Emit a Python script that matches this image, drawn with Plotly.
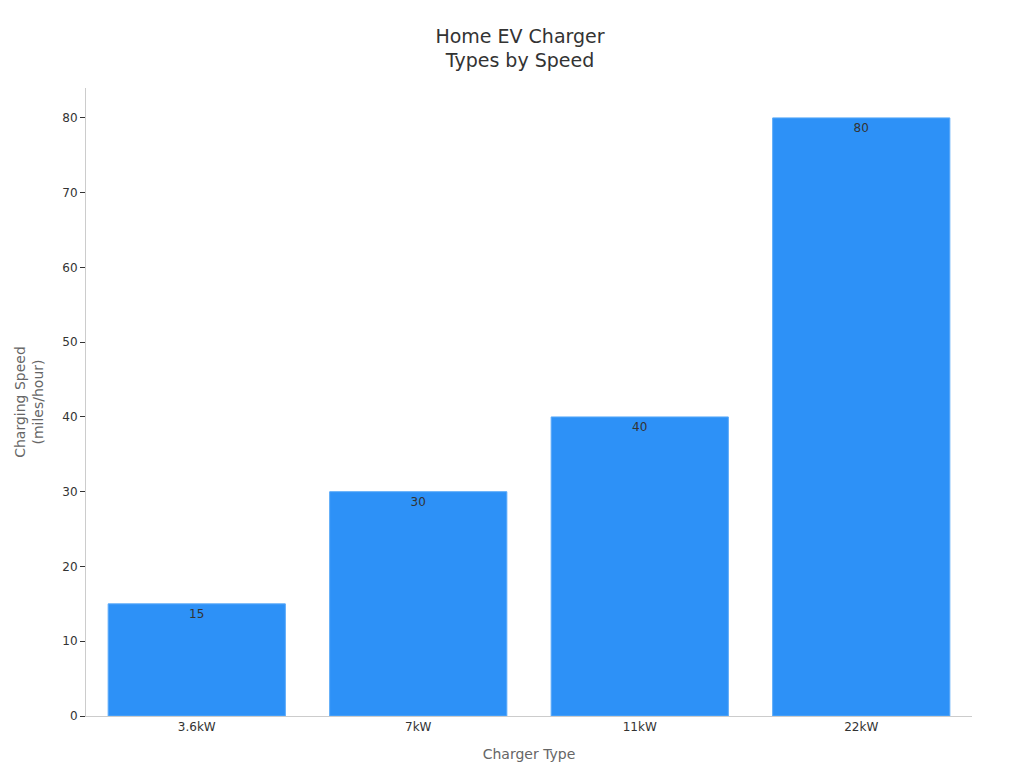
import plotly.graph_objects as go

categories = ["3.6kW", "7kW", "11kW", "22kW"]
speeds = [15, 30, 40, 80]

fig = go.Figure(go.Bar(
    x=categories, y=speeds, text=[str(v) for v in speeds],
    textposition="inside", insidetextanchor="end",
    textfont=dict(color="#333333", size=12),
    marker=dict(color="#2d91f7", line=dict(color="#5aaaf9", width=1)),
    width=0.8,
))
fig.update_layout(
    width=1024, height=768,
    paper_bgcolor="white", plot_bgcolor="white",
    font=dict(family="DejaVu Sans", color="#333333"),
    title=dict(text="Home EV Charger<br>Types by Speed", x=0.5, y=0.955, xanchor="center",
               font=dict(size=19, color="#333333")),
    margin=dict(l=78, r=60, t=80, b=60),
    showlegend=False,
    xaxis=dict(title=dict(text="Charger Type", font=dict(size=14, color="#666666")),
               showline=True, linecolor="#cccccc", ticks="", tickfont=dict(size=12)),
    yaxis=dict(title=dict(text="Charging Speed<br>(miles/hour)", font=dict(size=14, color="#666666")),
               range=[0, 84], dtick=10, showgrid=False, showline=True, linecolor="#cccccc",
               ticks="outside", ticklen=5, tickcolor="#333333", tickfont=dict(size=12)),
)
fig.write_html("out.html")
